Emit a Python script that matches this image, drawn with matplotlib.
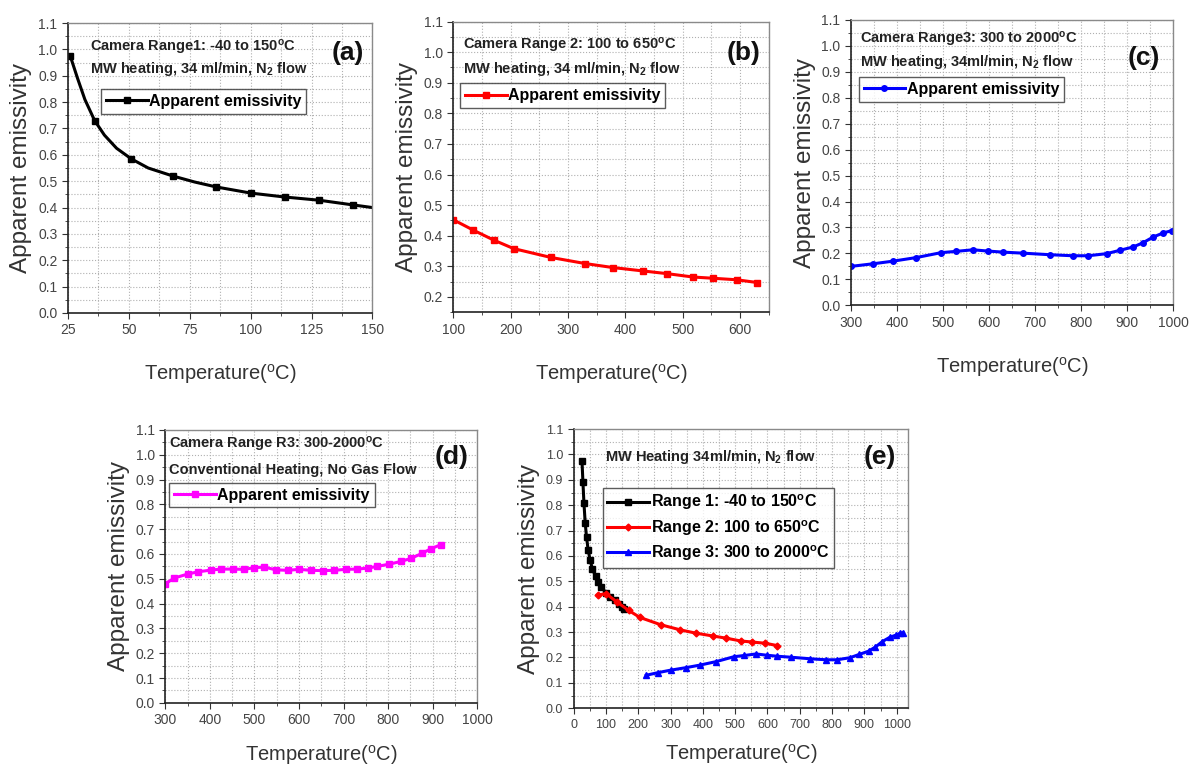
import matplotlib
matplotlib.use("Agg")
import matplotlib.pyplot as plt
from matplotlib import font_manager
from matplotlib.ticker import MultipleLocator

# Range 1 (-40 to 150 C), MW heating
r1_temp = [26, 29, 32, 36, 40, 45, 51, 58, 68, 77, 86, 100, 114, 128, 142, 150, 157]
r1_emis = [0.975, 0.89, 0.81, 0.73, 0.675, 0.625, 0.585, 0.55, 0.52, 0.497, 0.478,
           0.455, 0.44, 0.428, 0.41, 0.40, 0.392]
r1_marks = [0, 3, 6, 8, 10, 11, 12, 13, 14]

# Range 2 (100 to 650 C), MW heating
r2_temp = [75, 100, 135, 170, 205, 270, 330, 378, 430, 473, 518, 553, 594, 630]
r2_emis = [0.446, 0.452, 0.418, 0.386, 0.358, 0.329, 0.309, 0.296, 0.285, 0.276,
           0.265, 0.261, 0.256, 0.247]

# Range 3 (300 to 2000 C), MW heating
r3_temp = [225, 260, 300, 348, 391, 442, 496, 529, 565, 598, 630, 674, 732, 782,
           815, 855, 884, 913, 934, 956, 978, 997, 1010, 1020]
r3_emis = [0.130, 0.140, 0.150, 0.160, 0.170, 0.184, 0.203, 0.208, 0.214, 0.209,
           0.205, 0.201, 0.195, 0.191, 0.191, 0.199, 0.212, 0.225, 0.241, 0.263,
           0.279, 0.288, 0.295, 0.298]

# Range R3, conventional heating, no gas flow
conv_temp = [300, 320, 350, 373, 402, 425, 451, 477, 500, 522, 548, 575, 600, 627,
             653, 679, 705, 731, 754, 776, 803, 829, 851, 877, 896, 918]
conv_emis = [0.48, 0.503, 0.519, 0.528, 0.535, 0.539, 0.539, 0.538, 0.545, 0.547,
             0.536, 0.534, 0.538, 0.534, 0.533, 0.534, 0.538, 0.539, 0.543, 0.55,
             0.559, 0.57, 0.582, 0.603, 0.621, 0.637]

installed = {f.name for f in font_manager.fontManager.ttflist}
narrow = 'Liberation Sans Narrow' if 'Liberation Sans Narrow' in installed else 'Liberation Sans'
plt.rcParams['font.family'] = ['Liberation Sans', 'DejaVu Sans']
plt.rcParams['mathtext.default'] = 'regular'

DEG = r'$^{o}$C'


def style_axes(ax, xlim, xmaj, xmin, ylim, tick_size=10, xpad=18):
    ax.set_xlim(*xlim)
    ax.set_ylim(*ylim)
    ax.xaxis.set_major_locator(MultipleLocator(xmaj))
    ax.xaxis.set_minor_locator(MultipleLocator(xmin))
    ax.yaxis.set_major_locator(MultipleLocator(0.1))
    ax.yaxis.set_minor_locator(MultipleLocator(0.05))
    ax.grid(True, which='both', linestyle=':', color='#b0b0b0', linewidth=0.8)
    ax.set_axisbelow(True)
    for side in ['left', 'bottom']:
        ax.spines[side].set_color('#222222')
        ax.spines[side].set_linewidth(1.2)
    for side in ['top', 'right']:
        ax.spines[side].set_color('#8a8a8a')
        ax.spines[side].set_linewidth(1.0)
    ax.tick_params(which='major', direction='out', length=4, color='#333333',
                   labelcolor='#444444', labelsize=tick_size)
    ax.tick_params(which='minor', direction='out', length=2.5, color='#333333')
    for lab in ax.get_xticklabels() + ax.get_yticklabels():
        lab.set_fontfamily(narrow)
    ax.set_ylabel('Apparent emissivity', fontsize=17.5, color='#333333', labelpad=4)
    ax.set_xlabel('Temperature(' + DEG + ')', fontsize=14.5, color='#333333', labelpad=xpad)


def add_text(ax, lines, x, ys, size=10.5):
    for line, y in zip(lines, ys):
        ax.text(x, y, line, transform=ax.transAxes, fontsize=size, fontweight='bold',
                fontfamily=narrow, color='#222222', va='center', ha='left')


def add_letter(ax, letter, x, y):
    ax.text(x, y, letter, transform=ax.transAxes, fontsize=19, fontweight='bold',
            color='#111111', ha='center', va='center')


def add_legend(ax, x, y, size=11.5):
    leg = ax.legend(loc='upper left', bbox_to_anchor=(x, y), borderaxespad=0,
                    frameon=True, fancybox=False, edgecolor='#333333',
                    handlelength=2.6, handletextpad=0.1, borderpad=0.3,
                    labelspacing=0.35, prop={'family': narrow, 'weight': 'bold', 'size': size})
    leg.get_frame().set_linewidth(1.0)
    return leg


fig = plt.figure(figsize=(11.9, 7.69), dpi=100)

# (a)
ax = fig.add_axes([0.057, 0.593, 0.256, 0.377])
ax.plot(r1_temp, r1_emis, color='black', lw=2.2, marker='s', ms=4,
        markevery=r1_marks, label='Apparent emissivity')
style_axes(ax, (25, 150), 25, 12.5, (0, 1.1))
add_text(ax, ['Camera Range1: -40 to 150' + DEG, 'MW heating, 34 ml/min, N$_2$ flow'],
         0.072, [0.917, 0.841])
add_letter(ax, '(a)', 0.92, 0.897)
add_legend(ax, 0.11, 0.772)

# (b)
ax = fig.add_axes([0.381, 0.594, 0.265, 0.378])
ax.plot(r2_temp, r2_emis, color='red', lw=2.2, marker='s', ms=4,
        label='Apparent emissivity')
style_axes(ax, (100, 650), 100, 50, (0.15, 1.1))
add_text(ax, ['Camera Range 2: 100 to 650' + DEG, 'MW heating, 34 ml/min, N$_2$ flow'],
         0.032, [0.918, 0.838])
add_letter(ax, '(b)', 0.92, 0.893)
add_legend(ax, 0.022, 0.787)

# (c)
ax = fig.add_axes([0.715, 0.603, 0.271, 0.371])
ax.plot(r3_temp, r3_emis, color='blue', lw=2.2, marker='o', ms=4,
        label='Apparent emissivity')
style_axes(ax, (300, 1000), 100, 50, (0, 1.1))
add_text(ax, ['Camera Range3: 300 to 2000' + DEG, 'MW heating, 34ml/min, N$_2$ flow'],
         0.028, [0.933, 0.853])
add_letter(ax, '(c)', 0.907, 0.867)
add_legend(ax, 0.025, 0.80)

# (d)
ax = fig.add_axes([0.139, 0.086, 0.262, 0.355])
ax.plot(conv_temp, conv_emis, color='#ff00ff', lw=2.2, marker='s', ms=4,
        label='Apparent emissivity')
style_axes(ax, (300, 1000), 100, 50, (0, 1.1), xpad=11)
add_text(ax, ['Camera Range R3: 300-2000' + DEG, 'Conventional Heating, No Gas Flow'],
         0.013, [0.945, 0.853])
add_letter(ax, '(d)', 0.917, 0.90)
add_legend(ax, 0.013, 0.806)

# (e)
ax = fig.add_axes([0.482, 0.079, 0.281, 0.363])
ax.plot(r1_temp, r1_emis, color='black', lw=2.2, marker='s', ms=4,
        label='Range 1: -40 to 150' + DEG)
ax.plot(r2_temp, r2_emis, color='red', lw=2.2, marker='D', ms=3.5,
        label='Range 2: 100 to 650' + DEG)
ax.plot(r3_temp, r3_emis, color='blue', lw=2.2, marker='^', ms=4,
        label='Range 3: 300 to 2000' + DEG)
style_axes(ax, (0, 1035), 100, 50, (0, 1.1), tick_size=9, xpad=8)
add_text(ax, ['MW Heating 34ml/min, N$_2$ flow'], 0.093, [0.90])
add_letter(ax, '(e)', 0.916, 0.90)
add_legend(ax, 0.087, 0.789, size=11.5)

fig.savefig('out.png', dpi=100)
